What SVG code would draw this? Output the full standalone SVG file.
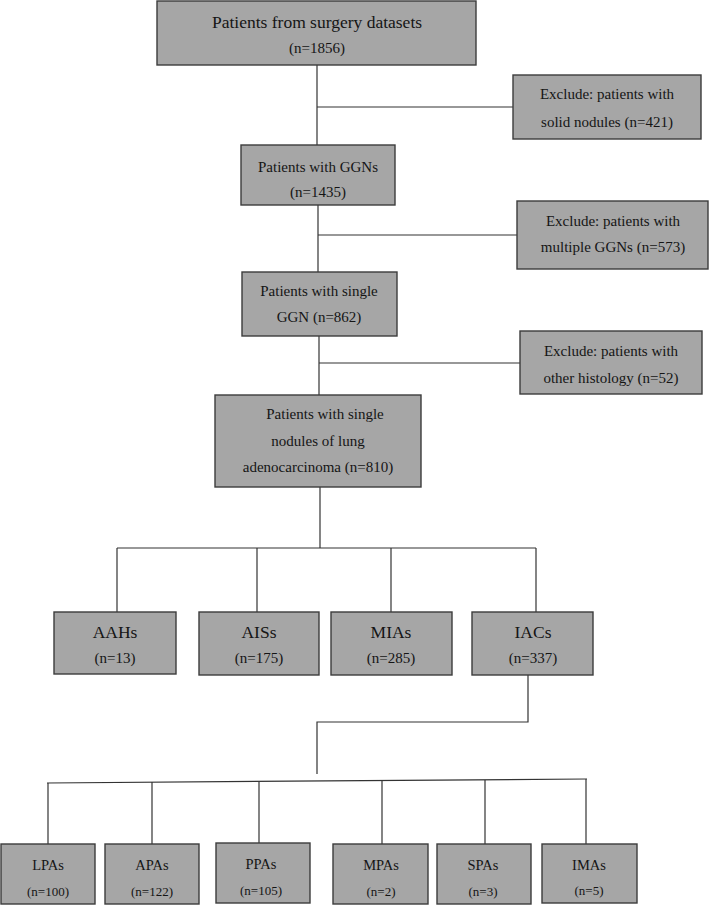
<svg xmlns="http://www.w3.org/2000/svg" width="709" height="905" viewBox="0 0 709 905">
<style>
.box{fill:#a6a6a6;stroke:#3c3c3c;stroke-width:1.4}
.ln{fill:none;stroke:#333;stroke-width:1.2}
.txt text{fill:#151515;text-anchor:middle}
.t15{font-size:15px}
.t17{font-size:17.5px}
.t14{font-size:14.5px}
.t13{font-size:13px}
</style>
<rect width="709" height="905" fill="#fff"/>
<g id="connectors">
<polyline class="ln" points="317,65 317,145"/>
<polyline class="ln" points="317,107 513,107"/>
<polyline class="ln" points="318,205 318,272"/>
<polyline class="ln" points="318,235 517,235"/>
<polyline class="ln" points="319,336 319,395"/>
<polyline class="ln" points="319,363 520,363"/>
<polyline class="ln" points="320,487 320,548"/>
<polyline class="ln" points="117,548 536,548"/>
<polyline class="ln" points="117,548 117,612"/>
<polyline class="ln" points="257,548 257,612"/>
<polyline class="ln" points="391,548 391,612"/>
<polyline class="ln" points="536,548 536,612"/>
<polyline class="ln" points="528,675 528,722 317,722 317,774"/>
<polyline class="ln" points="47,783 587,779"/>
<polyline class="ln" points="48,783 48,844"/>
<polyline class="ln" points="152,782 152,844"/>
<polyline class="ln" points="259,782 259,843"/>
<polyline class="ln" points="382,781 382,844"/>
<polyline class="ln" points="485,780 485,844"/>
<polyline class="ln" points="586,779 586,844"/>
</g>
<g class="txt" font-family="'Liberation Serif', 'Times New Roman', Times, 'DejaVu Serif', serif">
<g id="n-surgery"><rect class="box" x="157" y="1" width="319" height="64"/><text class="t17" x="317" y="28">Patients from surgery datasets</text><text class="t15" x="317" y="53">(n=1856)</text></g>
<g id="n-ex-solid"><rect class="box" x="513" y="75" width="188" height="64"/><text class="t15" x="607" y="99">Exclude: patients with</text><text class="t15" x="607" y="127">solid nodules (n=421)</text></g>
<g id="n-ggns"><rect class="box" x="241" y="145" width="154" height="60"/><text class="t15" x="318" y="172">Patients with GGNs</text><text class="t15" x="318" y="197">(n=1435)</text></g>
<g id="n-ex-multi"><rect class="box" x="517" y="201" width="191" height="68"/><text class="t15" x="613" y="226">Exclude: patients with</text><text class="t15" x="613" y="252">multiple GGNs (n=573)</text></g>
<g id="n-single"><rect class="box" x="242" y="272" width="155" height="64"/><text class="t15" x="319" y="296">Patients with single</text><text class="t15" x="319" y="322">GGN (n=862)</text></g>
<g id="n-ex-other"><rect class="box" x="520" y="331" width="182" height="63"/><text class="t15" x="611" y="356">Exclude: patients with</text><text class="t15" x="611" y="383">other histology (n=52)</text></g>
<g id="n-lung"><rect class="box" x="215" y="395" width="206" height="92"/><text class="t15" x="325" y="419">Patients with single</text><text class="t15" x="318" y="446">nodules of lung</text><text class="t15" x="318" y="472">adenocarcinoma (n=810)</text></g>
<g id="n-aah"><rect class="box" x="54" y="612" width="122" height="62"/><text class="t17" x="115" y="638">AAHs</text><text class="t15" x="115" y="663">(n=13)</text></g>
<g id="n-ais"><rect class="box" x="199" y="612" width="120" height="63"/><text class="t17" x="259" y="638">AISs</text><text class="t15" x="259" y="663">(n=175)</text></g>
<g id="n-mia"><rect class="box" x="331" y="612" width="121" height="63"/><text class="t17" x="391" y="638">MIAs</text><text class="t15" x="391" y="663">(n=285)</text></g>
<g id="n-iac"><rect class="box" x="472" y="612" width="121" height="63"/><text class="t17" x="533" y="638">IACs</text><text class="t15" x="533" y="663">(n=337)</text></g>
<g id="n-lpa"><rect class="box" x="1" y="844" width="94" height="60"/><text class="t14" x="48" y="870">LPAs</text><text class="t13" x="48" y="896">(n=100)</text></g>
<g id="n-apa"><rect class="box" x="105" y="844" width="94" height="60"/><text class="t14" x="152" y="870">APAs</text><text class="t13" x="152" y="896">(n=122)</text></g>
<g id="n-ppa"><rect class="box" x="216" y="843" width="94" height="60"/><text class="t14" x="261" y="869">PPAs</text><text class="t13" x="261" y="895">(n=105)</text></g>
<g id="n-mpa"><rect class="box" x="333" y="844" width="95" height="60"/><text class="t14" x="381" y="870">MPAs</text><text class="t13" x="381" y="896">(n=2)</text></g>
<g id="n-spa"><rect class="box" x="437" y="844" width="94" height="60"/><text class="t14" x="483" y="870">SPAs</text><text class="t13" x="483" y="896">(n=3)</text></g>
<g id="n-ima"><rect class="box" x="542" y="844" width="95" height="59"/><text class="t14" x="589" y="870">IMAs</text><text class="t13" x="589" y="895">(n=5)</text></g>
</g>
</svg>
